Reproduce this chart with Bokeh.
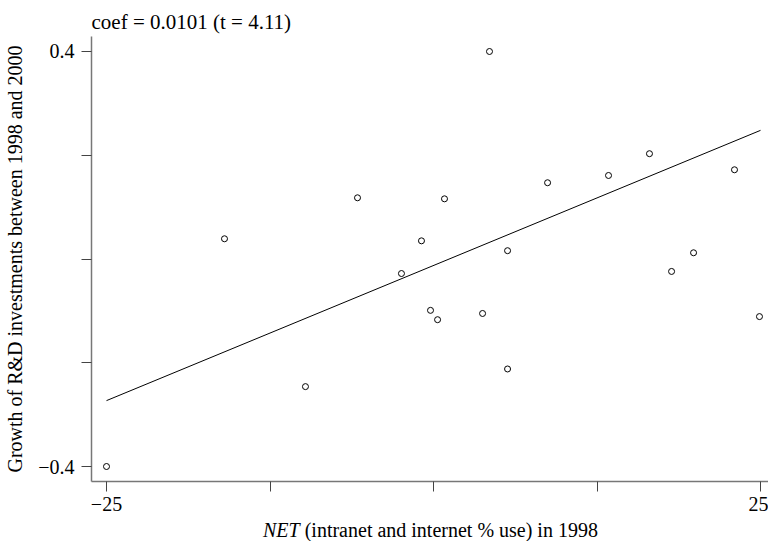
from bokeh.plotting import figure
from bokeh.models import Range1d, FixedTicker, Div
from bokeh.layouts import column
from bokeh.embed import file_html
from bokeh.resources import INLINE

# Data
net_1998 = [-25.0, -15.98, -9.79, -5.81, -2.45, -0.92, -0.23, 0.31, 0.84, 3.75,
            4.28, 5.66, 5.66, 8.72, 13.38, 16.51, 18.2, 19.88, 23.01, 24.92]
rd_growth = [-0.40, 0.039, -0.246, 0.118, -0.028, 0.035, -0.099, -0.117, 0.116, -0.105,
             0.400, 0.016, -0.212, 0.147, 0.161, 0.203, -0.024, 0.012, 0.172, -0.111]
fit_x = [-25.0, 25.0]
fit_y = [-0.273, 0.248]
x_ticks = [-25, -12.5, 0, 12.5, 25]
y_ticks = [-0.4, -0.2, 0, 0.2, 0.4]
x_tick_labels = {-25: "\u221225", -12.5: "", 0: "", 12.5: "", 25: "25"}
y_tick_labels = {-0.4: "\u22120.4", -0.2: "", 0: "", 0.2: "", 0.4: "0.4"}

FONT = "Liberation Serif"

p = figure(width=768, height=521, output_backend="svg", toolbar_location=None,
           x_range=Range1d(-26.147, 25.61), y_range=Range1d(-0.4289, 0.4289),
           min_border_left=91, min_border_right=0, min_border_top=36, min_border_bottom=40,
           title="coef = 0.0101 (t = 4.11)", margin=0)
p.title.text_font = FONT
p.title.text_font_size = "21px"
p.title.text_font_style = "normal"
p.title.align = "left"
p.title.text_color = "black"
p.title.standoff = 6

p.grid.visible = False
p.outline_line_color = None
p.background_fill_color = "white"
p.border_fill_color = "white"

for ax in (p.xaxis[0], p.yaxis[0]):
    ax.axis_line_color = "#777777"
    ax.axis_line_width = 1.5
    ax.major_tick_line_color = "#444444"
    ax.major_tick_line_width = 1
    ax.major_tick_out = 10
    ax.major_tick_in = 0
    ax.minor_tick_line_color = None
    ax.major_label_text_font = FONT
    ax.major_label_text_font_size = "20px"
    ax.major_label_text_color = "black"
    ax.axis_label_text_font = FONT
    ax.axis_label_text_font_size = "20px"
    ax.axis_label_text_font_style = "normal"
    ax.axis_label_text_color = "black"

p.xaxis.ticker = FixedTicker(ticks=x_ticks)
p.xaxis.major_label_overrides = x_tick_labels
p.xaxis.major_label_standoff = 5
p.yaxis.ticker = FixedTicker(ticks=y_ticks)
p.yaxis.major_label_overrides = y_tick_labels
p.yaxis.major_label_standoff = 7
p.yaxis.axis_label = "Growth of R&D investments between 1998 and 2000"
p.yaxis.axis_label_standoff = 9

p.line(fit_x, fit_y, line_color="black", line_width=1)
p.scatter(net_1998, rd_growth, size=6, marker="circle", fill_color=None,
          line_color="black", line_width=1)

# x axis title (with italic NET) as real text under the plot
xlabel = Div(text="<i>NET</i> (intranet and internet % use) in 1998",
             width=505, height=19, margin=(0, 0, 0, 263),
             styles={"font-family": "Liberation Serif", "font-size": "20px",
                     "line-height": "19px", "white-space": "nowrap", "color": "black"})

layout = column(p, xlabel, spacing=0)
open("out.html", "w").write(file_html(layout, INLINE))
